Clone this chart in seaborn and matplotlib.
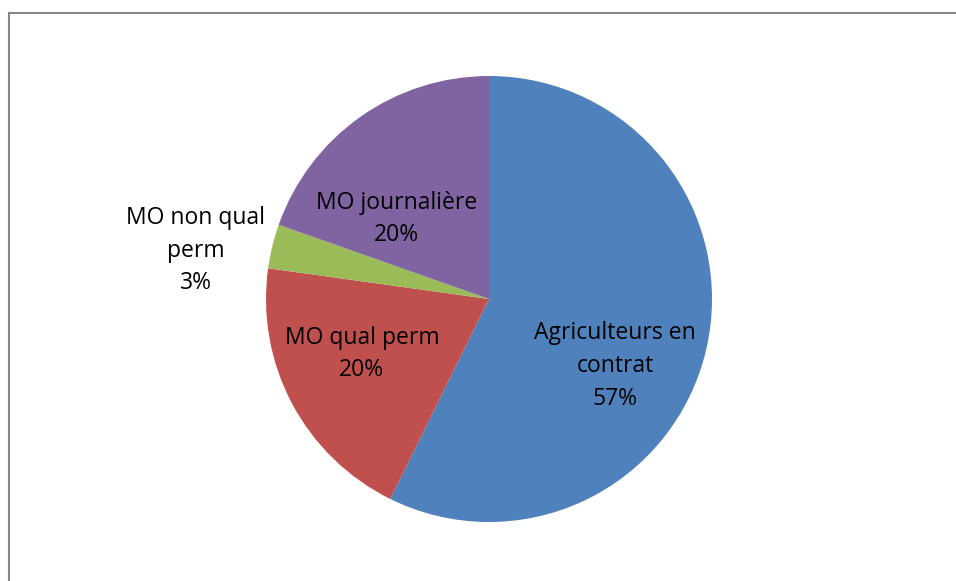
import matplotlib.pyplot as plt
import matplotlib.patches as mpatches
import seaborn as sns

sns.set_theme(style="white")
plt.rcParams['font.family'] = ['Open Sans', 'DejaVu Sans']

# données
categories = ["Agriculteurs en\ncontrat", "MO qual perm", "MO non qual\nperm", "MO journalière"]
values = [57.3, 19.9, 3.2, 19.6]
colors = ["#4F81BD", "#C0504D", "#9BBB59", "#8064A2"]
# position des étiquettes (en rayons, depuis le centre)
label_pos = [(0.565, -0.300), (-0.570, -0.246), (-1.314, 0.216), (-0.413, 0.358)]

W, H = 956, 581
fig = plt.figure(figsize=(W / 100, H / 100), dpi=100)
fig.patch.set_facecolor("white")

# cadre du graphique
fig.patches.append(mpatches.Rectangle((9 / W, -0.1), 1.2, (H - 13) / H + 0.1,
                                      transform=fig.transFigure, fill=False,
                                      edgecolor="#868686", linewidth=1.5))

cx, cy, r = 489, 299, 223
ax = fig.add_axes([(cx - r) / W, (H - cy - r) / H, 2 * r / W, 2 * r / H])
ax.pie(values, colors=colors, startangle=90, counterclock=False, radius=1,
       wedgeprops=dict(linewidth=0))
ax.set_xlim(-1, 1)
ax.set_ylim(-1, 1)
ax.axis("off")

for lab, v, (x, y) in zip(categories, values, label_pos):
    ax.text(x, y, f"{lab}\n{v:.0f}%", ha="center", va="center", fontsize=16.5,
            color="black", linespacing=1.48, clip_on=False)

plt.savefig("out.png", dpi=100)
